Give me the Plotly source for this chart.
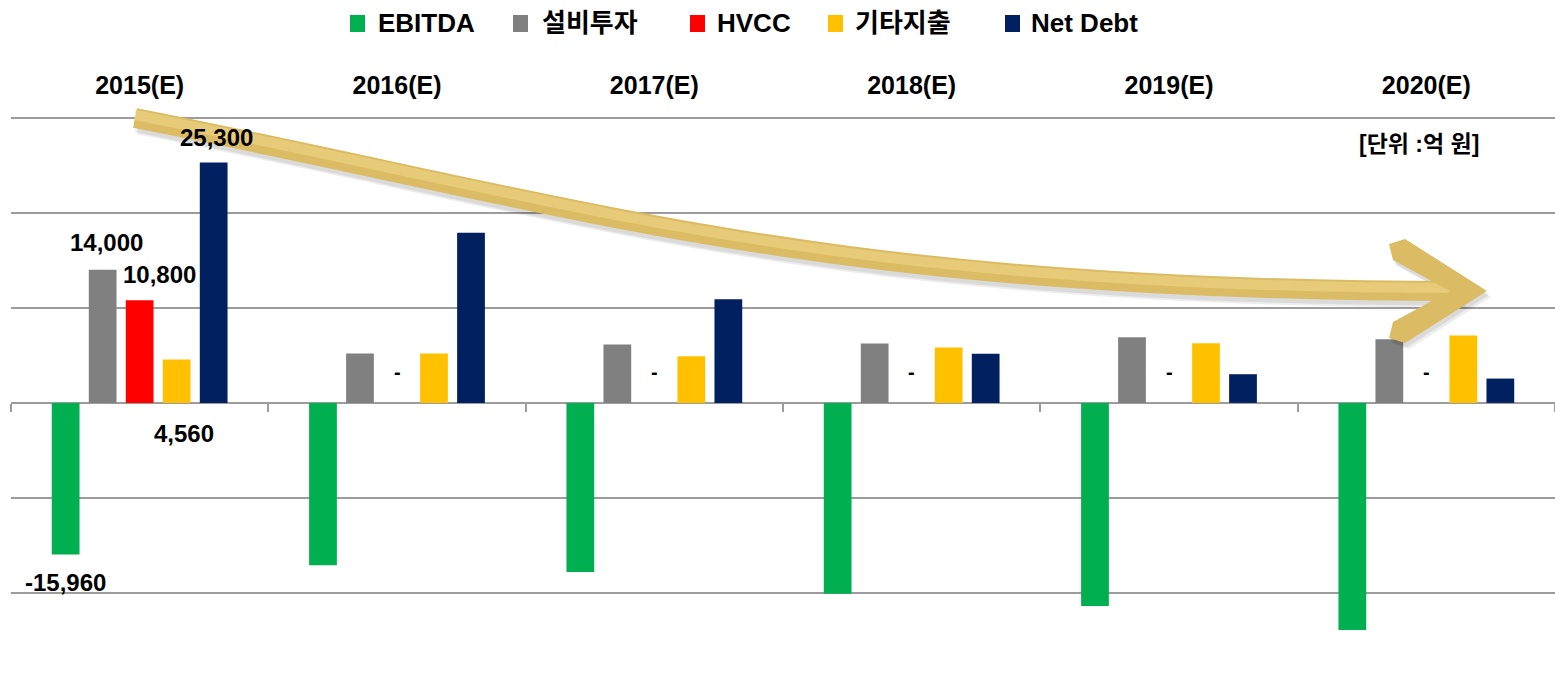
import plotly.graph_objects as go

# ---------------- data ----------------
years = ["2015(E)", "2016(E)", "2017(E)", "2018(E)", "2019(E)", "2020(E)"]
series_names = ["EBITDA", "설비투자", "HVCC", "기타지출", "Net Debt"]
ebitda = [-15960, -17080, -17790, -20070, -21380, -23900]
capex = [14000, 5200, 6150, 6260, 6920, 6700]
hvcc = [10800, 0, 0, 0, 0, 0]
other = [4560, 5200, 4920, 5840, 6290, 7080]
net_debt = [25300, 17900, 10920, 5170, 3020, 2560]
unit_label = "[단위 :억 원]"

colors = ["#00B050", "#808080", "#FF0000", "#FFC000", "#002060"]
values = [ebitda, capex, hvcc, other, net_debt]

# ---------------- layout geometry ----------------
W, H = 1555, 686
L, R, T, B = 11, 0, 114, 17
pw, ph = W - L - R, H - T - B
YMIN, YMAX = -28000, 30400


def px(x):
    return (x - L) / pw


def py(y):
    return (H - B - y) / ph


FONT = "Liberation Sans, Arial, Noto Sans CJK KR, sans-serif"
GRID = "#9c9c9c"

fig = go.Figure()
for name, vals, col in zip(series_names, values, colors):
    fig.add_trace(go.Bar(
        x=years, y=vals, name=name, marker=dict(color=col, line=dict(width=0)),
        showlegend=False, hoverinfo="x+y+name",
    ))

# helper (invisible) trace so the zero-line axis knows the categories
fig.add_trace(go.Scatter(
    x=years, y=[0] * len(years), xaxis="x2", mode="markers",
    marker=dict(opacity=0), hoverinfo="skip", showlegend=False,
))

annotations = []
lab_font = dict(family=FONT, size=24, color="black", weight="bold")

# 2015 data labels (custom placed like the original)
label_specs = [
    (net_debt[0], net_debt[0], 77, 25),
    (capex[0], capex[0], -33, 27),
    (hvcc[0], hvcc[0], 20, 26),
    (other[0], 0, 44, -31),
    (ebitda[0], ebitda[0], -74, -28),
]
for val, yv, xs, ys in label_specs:
    annotations.append(dict(
        x=years[0], y=yv, xref="x", yref="y", text=f"{val:,}", showarrow=False,
        xshift=xs, yshift=ys, xanchor="center", yanchor="middle", font=lab_font,
    ))

# "-" labels for zero HVCC values
for yr, v in zip(years, hvcc):
    if v == 0:
        annotations.append(dict(
            x=yr, y=0, xref="x", yref="y", text="-", showarrow=False,
            yshift=31, xanchor="center", yanchor="middle",
            font=dict(family=FONT, size=20, color="black", weight="bold"),
        ))

# unit label
annotations.append(dict(
    x=px(1419), y=py(144), xref="paper", yref="paper", text=unit_label,
    showarrow=False, xanchor="center", yanchor="middle",
    font=dict(family=FONT, size=23, color="black", weight="bold"),
))

shapes = []
# custom legend
marker_x = [350, 513, 690, 828, 1005]
text_x = [376, 540, 715, 853, 1029]
for name, col, mx, tx in zip(series_names, colors, marker_x, text_x):
    shapes.append(dict(
        type="rect", xref="paper", yref="paper",
        x0=px(mx), x1=px(mx + 15), y0=py(32), y1=py(15),
        fillcolor=col, line=dict(width=0), layer="above",
    ))
    annotations.append(dict(
        x=px(tx), y=py(23.5), xref="paper", yref="paper", text=name,
        showarrow=False, xanchor="left", yanchor="middle",
        font=dict(family=FONT, size=26, color="black", weight="bold"),
    ))


# decorative trend arrow (pixel coords -> paper)
def P(x, y):
    return f"{px(x):.5f},{py(y):.5f}"


def body_path(dx=0, dy=0):
    return ("M " + P(135 + dx, 118 + dy) + " C " + P(585 + dx, 206 + dy) + " "
            + P(815 + dx, 291 + dy) + " " + P(1462 + dx, 291 + dy))


def head_path(dx=0, dy=0):
    pts = [(1405, 239), (1487, 291), (1405, 343), (1389, 338), (1393, 322),
           (1450, 291), (1393, 260), (1389, 244)]
    return "M " + " L ".join(P(x + dx, y + dy) for x, y in pts) + " Z"


for dx, dy, op in [(4, 6, 0.07), (2, 4, 0.08)]:
    shapes.append(dict(type="path", xref="paper", yref="paper", path=body_path(dx, dy),
                       line=dict(color=f"rgba(0,0,0,{op})", width=21),
                       fillcolor="rgba(0,0,0,0)", layer="above"))
    shapes.append(dict(type="path", xref="paper", yref="paper", path=head_path(dx, dy),
                       line=dict(width=0), fillcolor=f"rgba(0,0,0,{op})", layer="above"))

shapes.append(dict(type="path", xref="paper", yref="paper", path=body_path(),
                   line=dict(color="#DBBC64", width=20), fillcolor="rgba(0,0,0,0)",
                   layer="above"))
shapes.append(dict(type="path", xref="paper", yref="paper", path=body_path(0, -3),
                   line=dict(color="rgba(240,214,135,0.6)", width=10),
                   fillcolor="rgba(0,0,0,0)", layer="above"))
shapes.append(dict(type="path", xref="paper", yref="paper", path=head_path(),
                   line=dict(width=0), fillcolor="#DBBC64", layer="above"))

zero_pos = (0 - YMIN) / (YMAX - YMIN)

fig.update_layout(
    width=W, height=H,
    margin=dict(l=L, r=R, t=T, b=B, pad=0),
    paper_bgcolor="white", plot_bgcolor="white",
    barmode="group", bargap=0.281, bargroupgap=0.25,
    showlegend=False,
    font=dict(family=FONT, color="black"),
    xaxis=dict(
        type="category", categoryorder="array", categoryarray=years,
        side="top", showgrid=False, zeroline=False, showline=False,
        ticks="", ticklabelstandoff=14,
        tickfont=dict(family=FONT, size=25, color="black", weight="bold"),
        range=[-0.5, 5.5], fixedrange=True,
    ),
    xaxis2=dict(
        type="category", categoryorder="array", categoryarray=years,
        overlaying="x", anchor="free", position=zero_pos, side="bottom",
        showgrid=False, zeroline=False, showline=False, showticklabels=False,
        ticks="outside", tickson="boundaries", ticklen=8, tickwidth=1.5,
        tickcolor=GRID, range=[-0.5, 5.5], fixedrange=True,
    ),
    yaxis=dict(
        range=[YMIN, YMAX], dtick=10000, tick0=0, showgrid=True,
        gridcolor=GRID, gridwidth=1.5, zeroline=True, zerolinecolor=GRID,
        zerolinewidth=1.5, showticklabels=False, ticks="", showline=False,
        fixedrange=True,
    ),
    annotations=annotations,
    shapes=shapes,
)

fig.write_html(
    "out.html",
    config={"displayModeBar": False},
    post_script="document.body.style.margin='0';document.body.style.overflow='hidden';",
)
